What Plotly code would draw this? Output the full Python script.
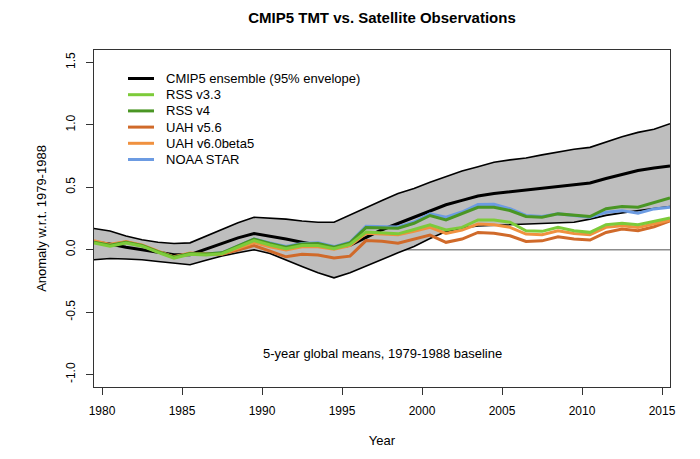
import plotly.graph_objects as go

# ---------------- data ----------------
years = [1979.5 + i for i in range(37)]

cmip_upper = [0.17, 0.15, 0.11, 0.08, 0.06, 0.05, 0.055, 0.11, 0.165, 0.215, 0.26, 0.255,
              0.245, 0.23, 0.22, 0.22, 0.28, 0.34, 0.395, 0.45, 0.49, 0.54,
              0.585, 0.63, 0.665, 0.70, 0.72, 0.735, 0.76, 0.783, 0.805, 0.82, 0.865, 0.905, 0.94, 0.965, 1.01]
cmip_mean = [0.06, 0.045, 0.02, 0.0, -0.02, -0.04, -0.04, 0.005, 0.055, 0.095, 0.13, 0.11,
             0.085, 0.06, 0.035, 0.015, 0.035, 0.095, 0.16, 0.21, 0.26, 0.31,
             0.36, 0.395, 0.43, 0.45, 0.465, 0.475, 0.49, 0.505, 0.52, 0.535, 0.57, 0.605, 0.635, 0.655, 0.67]
cmip_lower = [-0.08, -0.07, -0.075, -0.08, -0.095, -0.11, -0.12, -0.085, -0.05, -0.025, 0.0, -0.03,
              -0.085, -0.135, -0.185, -0.225, -0.185, -0.13, -0.075, -0.025, 0.025, 0.09,
              0.145, 0.175, 0.19, 0.195, 0.2, 0.2, 0.205, 0.21, 0.22, 0.245, 0.275, 0.295, 0.315, 0.33, 0.345]

rss_v33 = [0.053, 0.028, 0.053, 0.028, -0.022, -0.067, -0.037, -0.042, -0.032, 0.023, 0.073, 0.038,
           0.008, 0.033, 0.033, 0.008, 0.043,
           0.142, 0.137, 0.127, 0.162, 0.2, 0.158, 0.179, 0.238, 0.238, 0.22, 0.152, 0.147, 0.179,
           0.152, 0.139, 0.2, 0.211, 0.2, 0.227, 0.254]
rss_v4 = [0.06, 0.035, 0.06, 0.035, -0.015, -0.06, -0.03, -0.035, -0.025, 0.03, 0.085, 0.05,
          0.02, 0.045, 0.05, 0.02, 0.055,
          0.177, 0.177, 0.172, 0.212, 0.274, 0.239, 0.287, 0.34, 0.34, 0.314, 0.266, 0.26, 0.287,
          0.274, 0.266, 0.328, 0.346, 0.34, 0.38, 0.415]
uah_v56 = [0.068, 0.038, 0.063, 0.033, -0.017, -0.062, -0.032, -0.037, -0.037, -0.002, 0.033, -0.012,
           -0.057, -0.037, -0.042, -0.067, -0.052,
           0.073, 0.068, 0.052, 0.083, 0.117, 0.059, 0.085, 0.138, 0.132, 0.112, 0.066, 0.071, 0.103,
           0.085, 0.077, 0.138, 0.165, 0.152, 0.184, 0.23]
uah_v60b5 = [0.073, 0.043, 0.063, 0.038, -0.012, -0.057, -0.027, -0.037, -0.032, 0.013, 0.058, 0.023,
             -0.002, 0.023, 0.023, 0.003, 0.033,
             0.132, 0.127, 0.12, 0.147, 0.179, 0.13, 0.157, 0.205, 0.2, 0.179, 0.125, 0.12, 0.152,
             0.13, 0.12, 0.179, 0.191, 0.179, 0.205, 0.237]
noaa_star = [0.06, 0.035, 0.06, 0.035, -0.015, -0.06, -0.03, -0.035, -0.025, 0.03, 0.085, 0.055,
             0.025, 0.05, 0.055, 0.025, 0.06,
             0.187, 0.187, 0.182, 0.222, 0.287, 0.26, 0.302, 0.362, 0.364, 0.328, 0.274, 0.266, 0.287,
             0.274, 0.26, 0.3, 0.313, 0.293, 0.327, 0.34]

x_ticks = [1980, 1985, 1990, 1995, 2000, 2005, 2010, 2015]
y_ticks = [-1.0, -0.5, 0.0, 0.5, 1.0, 1.5]
y_tick_labels = ["-1.0", "-0.5", "0.0", "0.5", "1.0", "1.5"]

legend_names = ["CMIP5 ensemble (95% envelope)", "RSS v3.3", "RSS v4", "UAH v5.6",
                "UAH v6.0beta5", "NOAA STAR"]

# ---------------- styles ----------------
FONT = "Liberation Sans, Arial, Helvetica, sans-serif"
C_BLACK = "#000000"
C_FILL = "#BEBEBE"
C_RSS33 = "#7DCB3A"
C_RSS4 = "#4A9624"
C_UAH56 = "#D06A2A"
C_UAH6 = "#F0913F"
C_NOAA = "#6C9BE2"
legend_colors = [C_BLACK, C_RSS33, C_RSS4, C_UAH56, C_UAH6, C_NOAA]

fig = go.Figure()

# envelope
fig.add_trace(go.Scatter(x=years, y=cmip_lower, mode="lines",
                         line=dict(color=C_BLACK, width=1.6), showlegend=False, hoverinfo="skip"))
fig.add_trace(go.Scatter(x=years, y=cmip_upper, mode="lines", fill="tonexty", fillcolor=C_FILL,
                         line=dict(color=C_BLACK, width=1.6), showlegend=False, hoverinfo="skip"))
fig.add_trace(go.Scatter(x=years, y=cmip_mean, mode="lines", name=legend_names[0],
                         line=dict(color=C_BLACK, width=3), showlegend=False))

for name, vals, col in [("NOAA STAR", noaa_star, C_NOAA),
                        ("UAH v5.6", uah_v56, C_UAH56),
                        ("UAH v6.0beta5", uah_v60b5, C_UAH6),
                        ("RSS v4", rss_v4, C_RSS4),
                        ("RSS v3.3", rss_v33, C_RSS33)]:
    fig.add_trace(go.Scatter(x=years, y=vals, mode="lines", name=name,
                             line=dict(color=col, width=3), showlegend=False))

# zero line (under the envelope)
fig.add_shape(type="line", xref="paper", x0=0, x1=1, yref="y", y0=0, y1=0,
              line=dict(color="#8C8C8C", width=1.5), layer="below")

# manual legend (R style, no box)
PL, PR, PT, PB = 94, 670, 50, 387
W, H = PR - PL, PB - PT
for i, (nm, col) in enumerate(zip(legend_names, legend_colors)):
    py = 78.5 + 16.2 * i
    yp = 1 - (py - PT) / H
    fig.add_shape(type="line", xref="paper", yref="paper",
                  x0=(128 - PL) / W, x1=(154 - PL) / W, y0=yp, y1=yp,
                  line=dict(color=col, width=3))
    fig.add_annotation(xref="paper", yref="paper", x=(164 - PL) / W, y=yp,
                       text=nm, showarrow=False, xanchor="left", yanchor="middle",
                       font=dict(family=FONT, size=13, color="#000000"))

fig.add_annotation(xref="paper", yref="y", x=0.5, y=-0.83,
                   text="5-year global means, 1979-1988 baseline", showarrow=False,
                   font=dict(family=FONT, size=13, color="#000000"))

axis_common = dict(showgrid=False, zeroline=False, showline=True, linecolor="#333333",
                   linewidth=1, mirror=True, ticks="outside", ticklen=7, tickwidth=1,
                   tickcolor="#333333", tickfont=dict(family=FONT, size=12, color="#000000"))

fig.update_layout(
    width=700, height=459,
    margin=dict(l=PL, r=700 - PR, t=PT, b=459 - PB),
    paper_bgcolor="white", plot_bgcolor="white",
    showlegend=False,
    title=dict(text="<b>CMIP5 TMT vs. Satellite Observations</b>", x=(PL + W / 2) / 700,
               xanchor="center", y=1 - 18 / 459, yanchor="middle",
               font=dict(family=FONT, size=15, color="#000000")),
    xaxis=dict(range=[1979.5, 2015.5], tickvals=x_ticks, ticklabelstandoff=6,
               title=dict(text="Year", font=dict(family=FONT, size=13, color="#000000"), standoff=18),
               **axis_common),
    yaxis=dict(range=[-1.1, 1.6], tickvals=y_ticks, ticktext=y_tick_labels, tickangle=-90,
               ticklabelstandoff=6,
               title=dict(text="Anomaly w.r.t. 1979-1988", font=dict(family=FONT, size=13, color="#000000"),
                          standoff=14),
               **axis_common),
)

fig.write_html("out.html")
